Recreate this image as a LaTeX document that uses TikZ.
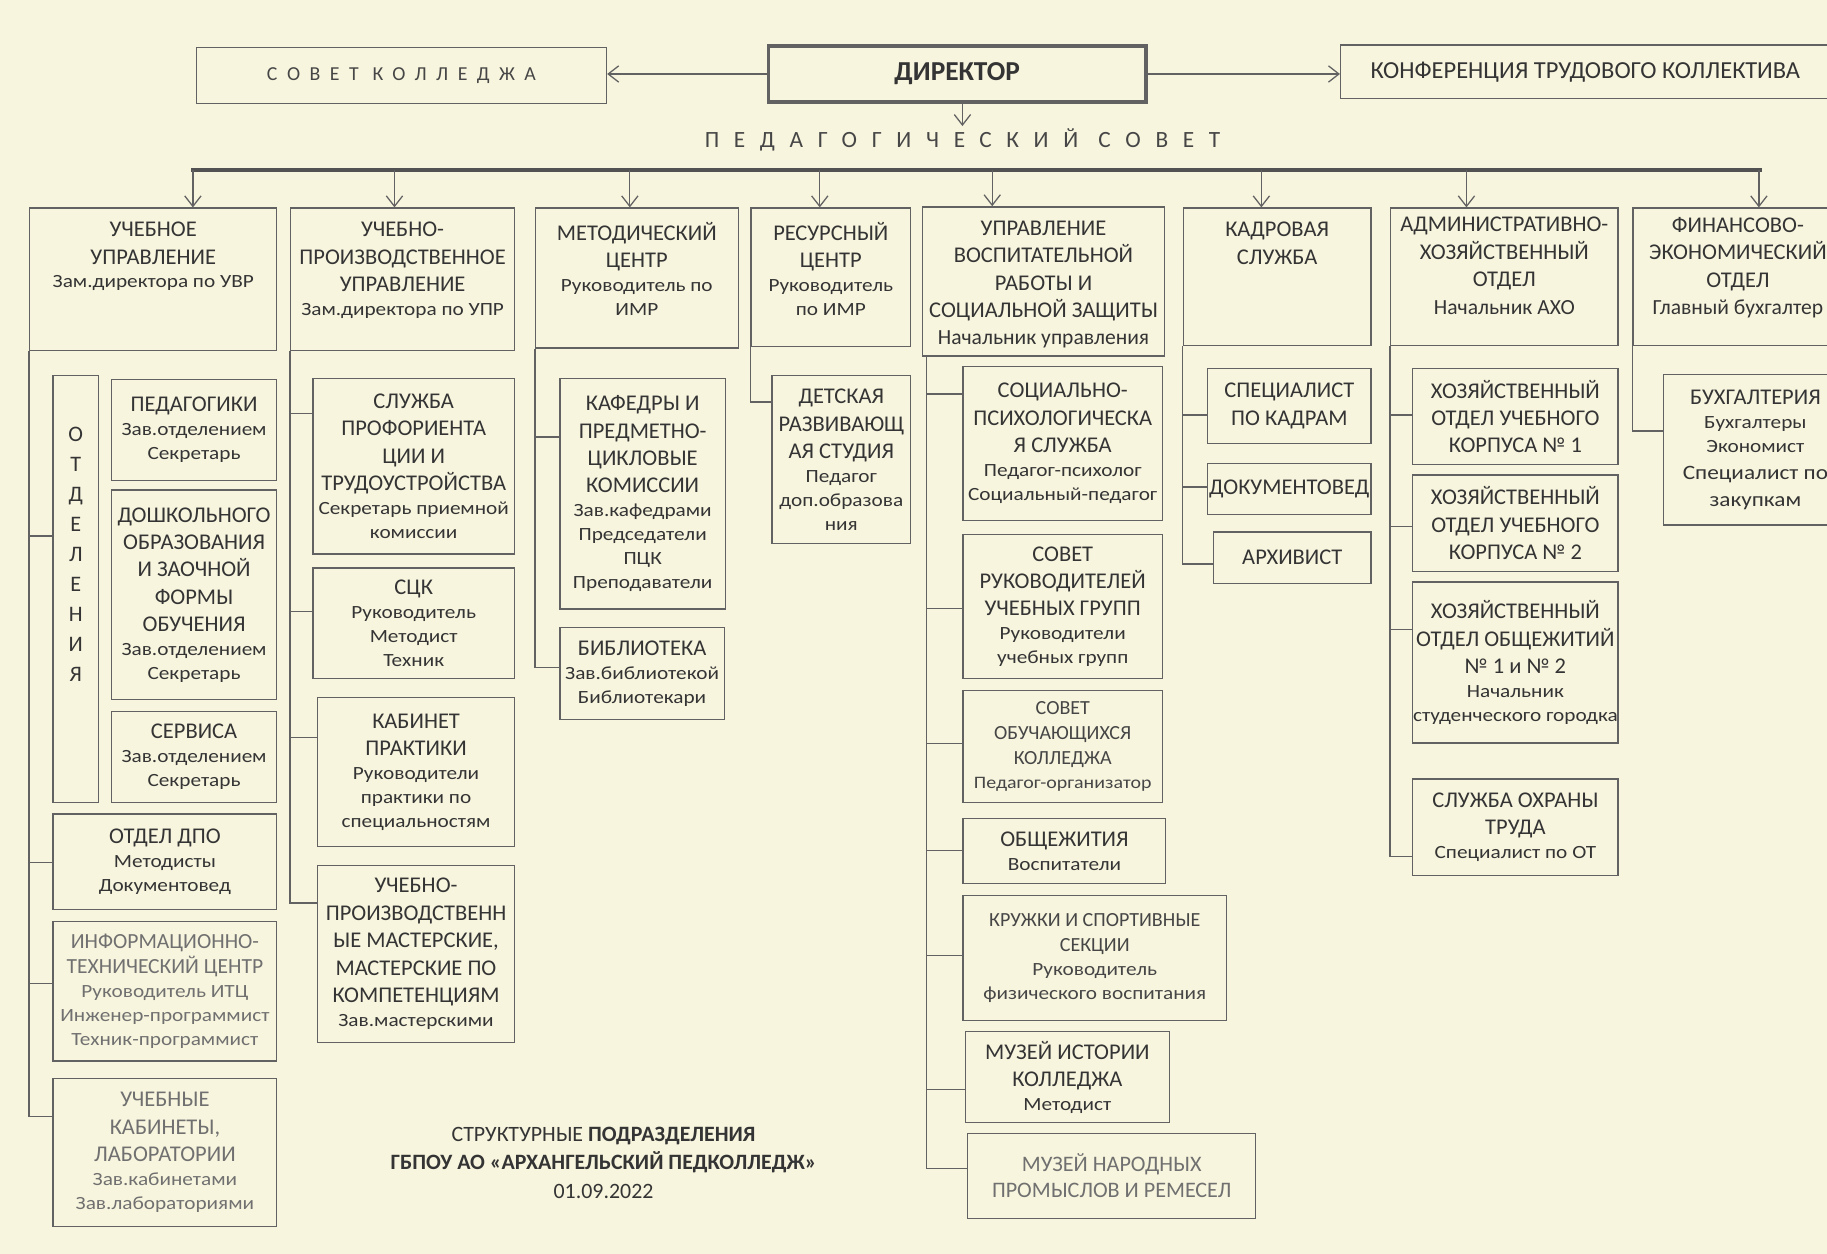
\documentclass[tikz,border=0pt]{standalone}
\usepackage{fontspec}
\setmainfont{Carlito}
\newfontfamily\staffface[FakeStretch=1.14]{Carlito}
\newfontfamily\spacedwide[LetterSpace=63]{Carlito}
\newfontfamily\spacedmid[LetterSpace=48]{Carlito}
\usetikzlibrary{arrows.meta,positioning}

\definecolor{paper}{RGB}{248,245,222}
\definecolor{ink}{RGB}{52,52,52}
\definecolor{softink}{RGB}{70,70,70}
\definecolor{fadeink}{RGB}{112,112,112}
\definecolor{edge}{RGB}{98,98,98}

\newcommand{\headfont}{\fontsize{19.3}{23.5}\selectfont}
\newcommand{\midhead}{\fontsize{17.2}{21.5}\selectfont}
\newcommand{\stafffont}{\staffface\fontsize{16}{20.5}\selectfont}
\newcommand{\cardtext}[4][c]{\parbox[c][#3][#1]{#2}{\centering #4\par}}

\begin{document}
\begin{tikzpicture}[x=1pt,y=-1pt]
\tikzset{
unit/.style={draw=edge, line width=1.1pt, anchor=north west, inner sep=0pt, text=ink},
tree/.style={draw=edge, line width=1.2pt},
arr/.style={draw=edge, line width=1.1pt, -{Straight Barb[length=9pt,width=14pt]}},
bus/.style={draw=ink!85, line width=4pt}
}
\useasboundingbox (0,0) rectangle (1568,1076);
\fill[paper] (0,0) rectangle (1568,1076);
\clip (0,0) rectangle (1568,1076);

% top level
\node[unit, text=softink] at (168,40) (sovet) {\cardtext{352pt}{48pt}{\spacedmid\fontsize{17}{20}\selectfont СОВЕТ КОЛЛЕДЖА}};
\node[unit, line width=3pt] at (658,38) (dir) {\cardtext{324pt}{48pt}{\fontsize{23.5}{26}\selectfont\bfseries ДИРЕКТОР}};
\node[unit] at (1150,38) (konf) {\cardtext{420pt}{46pt}{\fontsize{21}{23}\selectfont КОНФЕРЕНЦИЯ ТРУДОВОГО КОЛЛЕКТИВА}};
\node[text=softink, inner sep=2pt] at (826,120) (ped) {\spacedwide\fontsize{20}{24}\selectfont ПЕДАГОГИЧЕСКИЙ СОВЕТ};

\draw[arr] (dir.west) -- (sovet.east |- dir.west);
\draw[arr] (dir.east) -- (konf.west |- dir.east);
\draw[arr] (dir.south -| ped.north) -- (ped.north);

% divisions
\node[unit] at (25,178) (uvr) {\cardtext[t]{212pt}{122pt}{\vspace*{12pt}{\headfont УЧЕБНОЕ\\УПРАВЛЕНИЕ\par}{\stafffont Зам.директора по УВР\par}}};
\node[unit] at (249,178) (upr) {\cardtext[t]{192pt}{122pt}{\vspace*{12pt}{\headfont УЧЕБНО-\\ПРОИЗВОДСТВЕННОЕ\\УПРАВЛЕНИЕ\par}{\stafffont Зам.директора по УПР\par}}};
\node[unit] at (459,178) (mc) {\cardtext[t]{174pt}{120pt}{\vspace*{12pt}{\headfont МЕТОДИЧЕСКИЙ\\ЦЕНТР\par}{\stafffont Руководитель по\\ИМР\par}}};
\node[unit] at (644,178) (rc) {\cardtext[t]{137pt}{119pt}{\vspace*{12pt}{\headfont РЕСУРСНЫЙ\\ЦЕНТР\par}{\stafffont Руководитель\\по ИМР\par}}};
\node[unit] at (791,177) (uvsz) {\cardtext[t]{208pt}{128pt}{\vspace*{12pt}{\headfont УПРАВЛЕНИЕ\\ВОСПИТАТЕЛЬНОЙ\\РАБОТЫ И\\СОЦИАЛЬНОЙ ЗАЩИТЫ\\\fontsize{18.5}{23.5}\selectfont Начальник управления\par}}};
\node[unit] at (1015,178) (kadr) {\cardtext[t]{161pt}{118pt}{\vspace*{12pt}{\headfont КАДРОВАЯ\\СЛУЖБА\par}}};
\node[unit] at (1193,178) (axo) {\cardtext[t]{195pt}{118pt}{\vspace*{8pt}{\headfont АДМИНИСТРАТИВНО-\\ХОЗЯЙСТВЕННЫЙ\\ОТДЕЛ\\\fontsize{18.5}{23.5}\selectfont Начальник АХО\par}}};
\node[unit] at (1401,178) (fin) {\cardtext[t]{180pt}{118pt}{\vspace*{8pt}{\headfont ФИНАНСОВО-\\ЭКОНОМИЧЕСКИЙ\\ОТДЕЛ\\\fontsize{18.5}{23.5}\selectfont Главный бухгалтер\par}}};

\coordinate (busL) at (164,146);
\coordinate (busR) at (1512,146);
\draw[bus] (busL) -- (busR);
\foreach \n/\dx in {uvr/34, upr/-7, mc/-6, rc/-9.5, uvsz/-44, kadr/-13.5, axo/-32.5, fin/18}
  \draw[arr] ([xshift=\dx pt]\n.north |- busL) -- ([xshift=\dx pt]\n.north);

% educational department
\node[unit] at (45,322) (otd) {\cardtext[t]{39pt}{366pt}{\vspace*{44pt}\fontsize{19}{25.7}\selectfont О\\Т\\Д\\Е\\Л\\Е\\Н\\И\\Я\par}};
\node[unit] at (95,325) (pedag) {\cardtext{142pt}{87pt}{{\headfont ПЕДАГОГИКИ\par}{\stafffont Зав.отделением\\Секретарь\par}}};
\node[unit] at (95,420) (dosh) {\cardtext{142pt}{180pt}{{\headfont ДОШКОЛЬНОГО\\ОБРАЗОВАНИЯ\\И ЗАОЧНОЙ\\ФОРМЫ\\ОБУЧЕНИЯ\par}{\stafffont Зав.отделением\\Секретарь\par}}};
\node[unit] at (95,610) (serv) {\cardtext{142pt}{78pt}{{\headfont СЕРВИСА\par}{\stafffont Зав.отделением\\Секретарь\par}}};
\node[unit] at (45,698) (dpo) {\cardtext{192pt}{82pt}{{\headfont ОТДЕЛ ДПО\par}{\stafffont Методисты\\Документовед\par}}};
\node[unit, text=fadeink] at (45,790) (itc) {\cardtext{192pt}{120pt}{{\fontsize{18.5}{21.5}\selectfont ИНФОРМАЦИОННО-\\ТЕХНИЧЕСКИЙ ЦЕНТР\par}{\stafffont\lineskip=1pt Руководитель ИТЦ\\Инженер-программист\\Техник-программист\par}}};
\node[unit, text=fadeink] at (45,925) (kab) {\cardtext{192pt}{127pt}{{\headfont УЧЕБНЫЕ\\КАБИНЕТЫ,\\ЛАБОРАТОРИИ\par}{\stafffont Зав.кабинетами\\Зав.лабораториями\par}}};
\foreach \n/\d in {otd/138, dpo/42, itc/54, kab/33}
  \draw[tree] (uvr.south west) |- ([yshift=-\d pt]\n.north west);

% production department
\node[unit] at (268,324) (prof) {\cardtext{173pt}{151pt}{{\headfont СЛУЖБА\\ПРОФОРИЕНТА\\ЦИИ И\\ТРУДОУСТРОЙСТВА\par}{\stafffont Секретарь приемной\\комиссии\par}}};
\node[unit] at (268,487) (sck) {\cardtext{173pt}{95pt}{{\headfont СЦК\par}{\stafffont Руководитель\\Методист\\Техник\par}}};
\node[unit] at (272,598) (prak) {\cardtext{169pt}{128pt}{{\headfont КАБИНЕТ\\ПРАКТИКИ\par}{\stafffont Руководители\\практики по\\специальностям\par}}};
\node[unit] at (272,742) (mast) {\cardtext{169pt}{152pt}{{\headfont УЧЕБНО-\\ПРОИЗВОДСТВЕНН\\ЫЕ МАСТЕРСКИЕ,\\МАСТЕРСКИЕ ПО\\КОМПЕТЕНЦИЯМ\par}{\stafffont Зав.мастерскими\par}}};
\foreach \n/\d in {prof/31, sck/38, prak/35, mast/33}
  \draw[tree] (upr.south west) |- ([yshift=-\d pt]\n.north west);

% methodical centre
\node[unit] at (480,324) (kaf) {\cardtext{142pt}{198pt}{{\headfont КАФЕДРЫ И\\ПРЕДМЕТНО-\\ЦИКЛОВЫЕ\\КОМИССИИ\par}{\stafffont Зав.кафедрами\\Председатели\\ПЦК\\Преподаватели\par}}};
\node[unit] at (480,538) (bib) {\cardtext{141pt}{79pt}{{\headfont БИБЛИОТЕКА\par}{\stafffont Зав.библиотекой\\Библиотекари\par}}};
\foreach \n/\d in {kaf/51, bib/35}
  \draw[tree] (mc.south west) |- ([yshift=-\d pt]\n.north west);

% resource centre
\node[unit] at (662,322) (det) {\cardtext{119pt}{144pt}{{\headfont ДЕТСКАЯ\\РАЗВИВАЮЩ\\АЯ СТУДИЯ\par}{\stafffont Педагог\\доп.образова\\ния\par}}};
\draw[tree] (rc.south west) |- ([yshift=-23pt]det.north west);

% educational work
\node[unit] at (826,314) (sps) {\cardtext{171pt}{132pt}{{\headfont СОЦИАЛЬНО-\\ПСИХОЛОГИЧЕСКА\\Я СЛУЖБА\par}{\stafffont Педагог-психолог\\Социальный-педагог\par}}};
\node[unit] at (826,458) (srug) {\cardtext{171pt}{124pt}{{\headfont СОВЕТ\\РУКОВОДИТЕЛЕЙ\\УЧЕБНЫХ ГРУПП\par}{\stafffont Руководители\\учебных групп\par}}};
\node[unit, text=softink] at (826,592) (sob) {\cardtext{171pt}{96pt}{{\midhead СОВЕТ\\ОБУЧАЮЩИХСЯ\\КОЛЛЕДЖА\par}{\staffface\fontsize{15}{20.5}\selectfont Педагог-организатор\par}}};
\node[unit] at (826,702) (obsh) {\cardtext{174pt}{56pt}{{\headfont ОБЩЕЖИТИЯ\par}{\stafffont Воспитатели\par}}};
\node[unit, text=softink] at (826,768) (kruzh) {\cardtext{226pt}{107pt}{{\midhead КРУЖКИ И СПОРТИВНЫЕ\\СЕКЦИИ\par}{\stafffont Руководитель\\физического воспитания\par}}};
\node[unit] at (828,885) (muz) {\cardtext{175pt}{78pt}{{\headfont МУЗЕЙ ИСТОРИИ\\КОЛЛЕДЖА\par}{\stafffont Методист\par}}};
\node[unit, text=fadeink] at (830,972) (narod) {\cardtext{247pt}{73pt}{{\fontsize{19}{23}\selectfont МУЗЕЙ НАРОДНЫХ\\ПРОМЫСЛОВ И РЕМЕСЕЛ\par}}};
\foreach \n/\d in {sps/24, srug/64, sob/46, obsh/28, kruzh/52, muz/50, narod/31}
  \draw[tree] ([xshift=4pt]uvsz.south west) |- ([yshift=-\d pt]\n.north west);

% personnel
\node[unit] at (1036,316) (spec) {\cardtext{140pt}{64pt}{{\headfont СПЕЦИАЛИСТ\\ПО КАДРАМ\par}}};
\node[unit] at (1036,397) (doc) {\cardtext{140pt}{44pt}{{\headfont ДОКУМЕНТОВЕД\par}}};
\node[unit] at (1041,456) (arh) {\cardtext{135pt}{44pt}{{\headfont АРХИВИСТ\par}}};
\foreach \n/\d in {spec/40, doc/21, arh/28}
  \draw[tree] (kadr.south west) |- ([yshift=-\d pt]\n.north west);

% maintenance
\node[unit] at (1212,316) (hoz1) {\cardtext{176pt}{82pt}{{\headfont ХОЗЯЙСТВЕННЫЙ\\ОТДЕЛ УЧЕБНОГО\\КОРПУСА № 1\par}}};
\node[unit] at (1212,407) (hoz2) {\cardtext{176pt}{83pt}{{\headfont ХОЗЯЙСТВЕННЫЙ\\ОТДЕЛ УЧЕБНОГО\\КОРПУСА № 2\par}}};
\node[unit] at (1212,499) (hozob) {\cardtext{176pt}{138pt}{{\headfont ХОЗЯЙСТВЕННЫЙ\\ОТДЕЛ ОБЩЕЖИТИЙ\\№ 1 и № 2\par}{\stafffont Начальник\\студенческого городка\par}}};
\node[unit] at (1212,668) (ohr) {\cardtext{176pt}{83pt}{{\headfont СЛУЖБА ОХРАНЫ\\ТРУДА\par}{\stafffont Специалист по ОТ\par}}};
\foreach \n/\d in {hoz1/40, hoz2/45, hozob/41, ohr/67}
  \draw[tree] (axo.south west) |- ([yshift=-\d pt]\n.north west);

% finance
\node[unit] at (1427,321) (buh) {\cardtext{158pt}{129pt}{{\headfont БУХГАЛТЕРИЯ\par}{\stafffont Бухгалтеры\\Экономист\par}{\staffface\fontsize{17.5}{23}\selectfont Специалист по\\закупкам\par}}};
\draw[tree] (fin.south west) |- ([yshift=-49pt]buh.north west);

% caption
\node[text=ink, align=center, font=\fontsize{18.8}{24.5}\selectfont] at (518,998) (caption) {СТРУКТУРНЫЕ \textbf{ПОДРАЗДЕЛЕНИЯ}\\\textbf{ГБПОУ АО «АРХАНГЕЛЬСКИЙ ПЕДКОЛЛЕДЖ»}\\01.09.2022};
\end{tikzpicture}
\end{document}
